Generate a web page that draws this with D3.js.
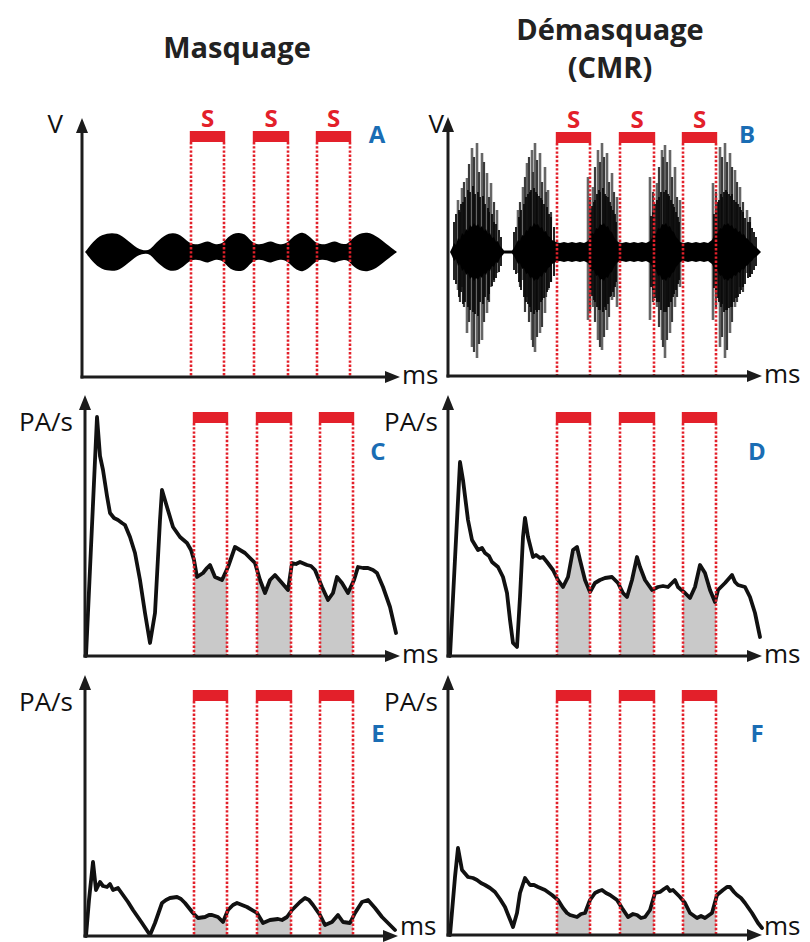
<!DOCTYPE html>
<html><head><meta charset="utf-8">
<script src="https://cdn.jsdelivr.net/npm/d3@7/dist/d3.min.js"></script>
<style>body{margin:0;background:#fff}svg{display:block}</style>
</head><body><svg id="c" width="810" height="942"></svg>
<script>
// ---------------- DATA ----------------
const columnTitles = [["Masquage"], ["Démasquage", "(CMR)"]];
const panelLetters = ["A", "B", "C", "D", "E", "F"];
const yAxisLabels = ["V", "V", "PA/s", "PA/s", "PA/s", "PA/s"];
const xAxisLabel = "ms";
const signalLabel = "S";
// signal intervals (ms, common time axis 0..315)
const signalIntervals = [[109, 142], [172, 206], [235, 268]];

// Panel A : envelope of the masker waveform [ms, half amplitude]
const envelopeA = [[3,0],[7,5],[11,10],[15,14],[20,17],[25,18.5],[30,19],[35,18.5],[40,16],[45,12],[50,8],[55,4],[60,2],[64,1.5],[68,2.5],[72,7],[77,12],[82,16],[87,18.5],[91,19],[96,18],[101,15],[105,11],[109,8.5],[113,7.5],[118,8],[122,10],[126,11],[130,9],[134,7.5],[138,8],[142,10],[146,15],[151,18.5],[157,19.5],[163,18],[167,13],[171,9],[176,7.5],[181,8],[185,10],[189,11],[193,9],[198,7.5],[203,8],[207,11],[212,16],[217,19],[221,19.5],[226,17],[231,12],[235,8.5],[240,7.5],[245,8],[249,10],[253,11],[257,9],[262,7.5],[266,8.5],[270,13],[275,17],[280,19],[285,19.5],[291,18],[297,14],[302,10],[307,6],[311,3],[315,0]];

// Panel B : dense core of the noise waveform [ms, half amplitude]
const coreB = [[2,0],[4,4],[6,9],[8,7],[10,14],[12,12],[14,19],[16,17],[18,23],[20,21],[22,27],[24,25],[26,29],[28,26],[30,28],[32,24],[34,26],[36,21],[38,23],[40,18],[42,19],[44,14],[46,15],[48,10],[50,11],[52,6],[54,4],[56,1.5],[60,1.5],[64,1.5],[66,4],[68,8],[70,12],[72,11],[74,17],[76,16],[78,22],[80,21],[82,26],[84,25],[86,29],[88,27],[90,28],[92,24],[94,25],[96,20],[98,21],[100,16],[102,15],[104,12],[106,11],[108,10],[112,9],[116,10],[120,9],[124,10],[128,9],[132,10],[136,9],[140,11],[142,15],[144,19],[146,18],[148,24],[150,23],[152,28],[154,27],[156,29],[158,25],[160,26],[162,21],[164,20],[166,15],[168,12],[170,10],[174,9],[178,10],[182,9],[186,10],[190,9],[194,10],[198,9],[202,11],[204,14],[206,19],[208,18],[210,24],[212,23],[214,28],[216,27],[218,29],[220,25],[222,26],[224,21],[226,20],[228,15],[230,13],[232,10],[236,9],[240,10],[244,9],[248,10],[252,9],[256,10],[260,9],[264,12],[266,16],[268,20],[270,19],[272,24],[274,23],[276,28],[278,27],[280,29],[282,26],[284,27],[286,23],[288,24],[290,20],[292,21],[294,17],[296,18],[298,14],[300,13],[302,10],[304,9],[306,6],[308,5],[310,3],[312,1],[313,0]];

// Panel B : large spikes [ms, up, down]
const spikesB = [[10,52,38],[14,64,35],[19,74,81],[24,104,95],[29,109,106],[34,99,88],[39,79,61],[43,69,35],[49,42,21],
  [70,42,21],[75,65,28],[79,89,45],[84,102,88],[87,109,100],[92,99,81],[97,85,61],[100,62,38],
  [140,75,68],[145,65,55],[150,102,88],[154,109,98],[159,99,78],[164,79,48],[169,55,55],
  [202,75,68],[209,69,55],[214,102,88],[217,107,106],[222,102,81],[227,85,55],[232,52,35],
  [265,69,68],[272,105,95],[277,109,106],[282,99,81],[287,82,55],[292,65,35],[299,42,21]];
// Panel B : intermediate spikes [ms, up, down]
const midSpikesB = [[12,40,50],[16,70,55],[21,88,70],[26,95,100],[31,80,92],[36,90,70],[41,55,50],[46,50,30],
  [72,50,35],[77,75,60],[81,95,70],[85,80,95],[89,92,85],[94,70,75],[98,60,45],[103,40,30],
  [142,55,60],[147,85,70],[152,90,95],[156,95,85],[161,70,65],[166,60,45],
  [205,60,50],[211,85,75],[215,95,95],[219,90,88],[224,75,70],[229,55,45],
  [268,60,55],[274,95,85],[279,90,98],[284,85,70],[289,70,50],[295,50,40],[302,35,25]];
// Panel B : short dense spikes [ms, up, down]
const minorSpikesB = [[6,30,28],[8,38,32],[11,42,45],[13,48,40],[15,50,52],[17,55,50],[20,62,55],[22,60,58],[25,66,60],[27,58,62],[30,60,64],[32,55,50],[35,56,52],[37,48,45],[40,44,48],[41,40,42],[44,38,34],[46,30,28],[48,28,26],[51,22,20],[53,15,14],
  [66,20,18],[68,25,22],[71,35,30],[73,42,38],[76,48,45],[78,55,50],[80,58,52],[82,60,55],[83,62,60],[86,64,62],[88,60,58],[89,58,60],[91,56,58],[93,54,50],[94,52,48],[96,48,46],[99,45,40],[101,38,36],[103,35,30],[106,25,24],
  [143,40,38],[144,46,44],[146,50,48],[147,52,50],[149,58,55],[151,62,58],[152,60,58],[155,64,60],[157,58,55],[158,56,58],[160,55,52],[162,50,45],[163,46,44],[165,42,40],[167,38,35],[168,30,30],
  [203,36,35],[205,40,38],[207,48,46],[209,52,50],[211,55,50],[213,60,58],[216,60,60],[218,62,60],[220,58,55],[221,56,55],[223,52,50],[225,48,45],[226,45,42],[228,40,38],[230,35,32],[231,30,28],
  [266,38,36],[268,42,40],[270,50,46],[271,52,50],[273,58,55],[274,55,52],[276,60,60],[278,62,58],[279,60,58],[281,58,56],[283,56,55],[284,58,55],[286,52,50],[288,50,46],[290,48,45],[292,45,42],[293,42,38],[295,40,35],[297,34,32],[300,30,26],[302,30,25],[304,24,22],[306,20,18],[308,15,14]];

// Panels C-F : firing rate (PA/s) [ms, rate]
const rateC = [[1,0],[12,239],[15,200],[18,186],[22,160],[25,143],[29,138],[33,136],[37,133],[40,131],[45,119],[50,103],[55,76],[60,43],[65,13],[70,43],[75,136],[77,166],[82,149],[88,129],[95,119],[102,113],[106,106],[109,96],[112,79],[118,83],[122,88],[125,91],[130,79],[137,76],[143,89],[150,109],[155,106],[160,103],[165,98],[170,93],[175,76],[180,63],[185,76],[190,81],[197,73],[203,66],[207,93],[211,92],[215,94],[222,91],[226,90],[230,86],[237,69],[243,56],[248,63],[252,79],[257,73],[263,63],[269,76],[273,89],[278,88],[283,88],[288,86],[292,83],[298,69],[305,49],[311,23]];
const rateD = [[2,0],[12,194],[15,176],[20,136],[24,116],[30,106],[34,108],[37,103],[41,100],[44,94],[50,89],[55,79],[59,63],[62,36],[65,13],[69,9],[72,59],[75,119],[77,138],[80,119],[85,99],[88,101],[92,98],[95,99],[99,94],[105,86],[110,76],[115,69],[120,79],[125,106],[129,109],[132,96],[137,76],[142,64],[147,73],[152,76],[157,78],[164,79],[170,73],[175,63],[179,59],[184,76],[189,99],[192,89],[197,76],[204,66],[210,69],[215,70],[220,69],[224,73],[227,76],[230,69],[237,63],[242,58],[247,69],[252,91],[257,83],[262,66],[267,54],[270,66],[277,73],[284,81],[287,74],[290,71],[297,69],[302,59],[307,43],[312,19]];
const rateE = [[1,0],[4,36],[8,74],[11,46],[15,54],[18,50],[22,49],[25,52],[28,46],[33,48],[38,41],[43,34],[48,26],[57,13],[65,1],[70,13],[77,33],[81,36],[85,38],[92,39],[96,37],[100,33],[108,23],[113,18],[120,19],[124,21],[127,21],[133,19],[138,14],[143,26],[148,31],[152,33],[157,31],[162,29],[172,23],[178,13],[185,16],[193,17],[197,16],[202,19],[207,26],[215,34],[220,38],[224,36],[228,31],[235,21],[240,11],[247,14],[253,21],[258,14],[265,13],[270,23],[277,34],[283,36],[290,28],[297,19],[305,11],[310,6]];
const rateF = [[2,0],[7,58],[10,87],[14,65],[20,58],[25,57],[29,55],[33,52],[37,50],[42,47],[47,43],[52,36],[57,28],[61,18],[65,8],[69,22],[72,42],[77,57],[82,50],[86,50],[90,48],[97,45],[104,40],[110,35],[115,27],[119,22],[122,20],[129,18],[133,21],[137,22],[142,35],[147,42],[151,44],[154,45],[158,42],[162,40],[169,35],[174,27],[180,18],[185,21],[189,20],[193,17],[197,18],[202,25],[207,42],[212,43],[216,46],[219,48],[222,44],[225,45],[232,38],[237,32],[242,22],[249,17],[253,19],[257,17],[264,22],[269,40],[275,45],[279,48],[282,48],[286,43],[289,40],[293,37],[297,32],[304,22],[310,12],[314,7]];

// ---------------- DRAWING ----------------
const RED = "#e3202a", BLUE = "#1a6db4", AX = "#1c1c1c", FONT = "'Open Sans', 'DejaVu Sans', sans-serif";
const svg = d3.select("#c");

// column titles
svg.append("text").attr("x", 237).attr("y", 58).attr("text-anchor", "middle")
  .attr("font-family", FONT).attr("font-weight", 700).attr("font-size", 29).attr("fill", "#222")
  .text(columnTitles[0][0]);
columnTitles[1].forEach((t, i) => {
  svg.append("text").attr("x", 610).attr("y", 40 + i * 38).attr("text-anchor", "middle")
    .attr("font-family", FONT).attr("font-weight", 700).attr("font-size", 29).attr("fill", "#222").text(t);
});

const panels = [
  {kind: "envA", ox: 82, axisY: 377, topY: 118, endX: 400, yDom: [-125, 134], barY: 131, lx: 377, ly: 143, labX: 63, labY: 133, s: true, msY: 384},
  {kind: "envB", ox: 448, axisY: 376, topY: 117, endX: 762, yDom: [-124, 135], barY: 132, lx: 747, ly: 143, labX: 444, labY: 133, s: true, msY: 383},
  {kind: "rate", data: rateC, ox: 85, axisY: 656, topY: 395, endX: 400, yDom: [0, 261], barY: 412, lx: 378, ly: 460, labX: 73, labY: 431, msY: 663},
  {kind: "rate", data: rateD, ox: 448, axisY: 656, topY: 395, endX: 762, yDom: [0, 261], barY: 412, lx: 757, ly: 460, labX: 438, labY: 431, msY: 663},
  {kind: "rate", data: rateE, ox: 85, axisY: 936, topY: 675, endX: 398, yDom: [0, 261], barY: 690, lx: 378, ly: 742, labX: 73, labY: 711, msY: 935},
  {kind: "rate", data: rateF, ox: 448, axisY: 935, topY: 675, endX: 762, yDom: [0, 260], barY: 690, lx: 757, ly: 742, labX: 438, labY: 711, msY: 935}
];

panels.forEach((p, i) => {
  const g = svg.append("g");
  const x = d3.scaleLinear().domain([0, 315]).range([p.ox, p.ox + 315]);
  const y = d3.scaleLinear().domain(p.yDom).range([p.axisY, p.topY]);

  if (p.kind === "rate") {
    const cid = "clip" + i;
    const cp = g.append("clipPath").attr("id", cid);
    signalIntervals.forEach(iv => {
      cp.append("rect").attr("x", x(iv[0])).attr("y", p.topY).attr("width", x(iv[1]) - x(iv[0])).attr("height", p.axisY - p.topY);
    });
    g.append("path").datum(p.data).attr("clip-path", `url(#${cid})`)
      .attr("fill", "#c9c9c9")
      .attr("d", d3.area().x(d => x(d[0])).y0(y(0)).y1(d => y(d[1])));
    g.append("path").datum(p.data).attr("fill", "none").attr("stroke", "#111")
      .attr("stroke-width", 3.8).attr("stroke-linejoin", "round").attr("stroke-linecap", "round")
      .attr("d", d3.line().x(d => x(d[0])).y(d => y(d[1])));
  } else if (p.kind === "envA") {
    g.append("path").datum(envelopeA).attr("fill", "#000")
      .attr("d", d3.area().x(d => x(d[0])).y0(d => y(-d[1])).y1(d => y(d[1])).curve(d3.curveBasis));
  } else {
    const vline = (sel, data, color, w) => sel.selectAll(null).data(data).join("line")
      .attr("x1", d => x(d[0])).attr("x2", d => x(d[0]))
      .attr("y1", d => y(d[1])).attr("y2", d => y(-d[2]))
      .attr("stroke", color).attr("stroke-width", w);
    vline(g, spikesB, "#666", 2.6);
    vline(g, midSpikesB, "#3a3a3a", 2.2);
    vline(g, minorSpikesB, "#0a0a0a", 1.8);
    g.append("path").datum(coreB).attr("fill", "#000")
      .attr("d", d3.area().x(d => x(d[0])).y0(d => y(-d[1])).y1(d => y(d[1])));
  }

  // signal bars + dotted lines
  signalIntervals.forEach(iv => {
    g.append("rect").attr("x", x(iv[0]) - 1.2).attr("y", p.barY).attr("width", x(iv[1]) - x(iv[0]) + 2.4).attr("height", 11).attr("fill", RED);
    iv.forEach(t => {
      g.append("line").attr("x1", x(t)).attr("x2", x(t)).attr("y1", p.barY + 11).attr("y2", p.axisY)
        .attr("stroke", RED).attr("stroke-width", 2.6).attr("stroke-dasharray", "2.4,1.8");
    });
    if (p.s) {
      g.append("text").attr("x", x((iv[0] + iv[1]) / 2)).attr("y", p.barY - 4).attr("text-anchor", "middle")
        .attr("font-family", FONT).attr("font-weight", 700).attr("font-size", 24).attr("fill", RED).text(signalLabel);
    }
  });

  // axes with arrows
  g.append("line").attr("x1", p.ox).attr("x2", p.ox).attr("y1", p.axisY + 1.5).attr("y2", p.topY + 12)
    .attr("stroke", AX).attr("stroke-width", 3);
  g.append("path").attr("fill", AX)
    .attr("d", `M${p.ox},${p.topY} L${p.ox - 6},${p.topY + 15} L${p.ox + 6},${p.topY + 15} Z`);
  g.append("line").attr("x1", p.ox - 1.5).attr("x2", p.endX - 12).attr("y1", p.axisY).attr("y2", p.axisY)
    .attr("stroke", AX).attr("stroke-width", 3);
  g.append("path").attr("fill", AX)
    .attr("d", `M${p.endX},${p.axisY} L${p.endX - 15},${p.axisY - 6} L${p.endX - 15},${p.axisY + 6} Z`);

  // labels
  g.append("text").attr("x", p.endX + 2).attr("y", p.msY)
    .attr("font-family", FONT).attr("font-size", 26).attr("fill", "#111").text(xAxisLabel);
  g.append("text").attr("x", p.labX).attr("y", p.labY).attr("text-anchor", "end")
    .attr("font-family", FONT).attr("font-size", 26).attr("fill", "#111").text(yAxisLabels[i]);
  g.append("text").attr("x", p.lx).attr("y", p.ly).attr("text-anchor", "middle")
    .attr("font-family", FONT).attr("font-weight", 700).attr("font-size", 24).attr("fill", BLUE).text(panelLetters[i]);
});
</script></body></html>
